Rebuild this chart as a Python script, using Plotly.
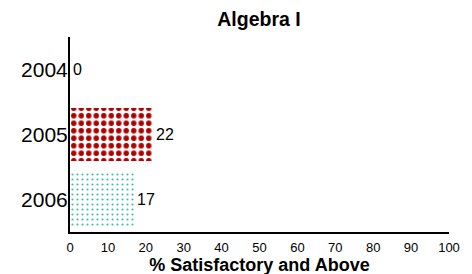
import plotly.graph_objects as go

years = ["2004", "2005", "2006"]
values = [0, 22, 17]
x_ticks = [0, 10, 20, 30, 40, 50, 60, 70, 80, 90, 100]

FONT = "Arial, Liberation Sans, sans-serif"
OFF = 8  # page body margin offset compensation

fig = go.Figure()
fig.add_trace(go.Bar(
    y=[years[0]], x=[values[0]], orientation="h", width=0.82,
    marker=dict(color="white", line=dict(width=0)),
    text=[str(values[0])], textposition="outside", cliponaxis=False,
    textfont=dict(size=16, color="black", family=FONT),
))
fig.add_trace(go.Bar(
    y=[years[1]], x=[values[1]], orientation="h", width=0.82,
    marker=dict(color="white", line=dict(width=0),
                pattern=dict(shape=".", fgcolor="#B00000", bgcolor="white",
                             size=7.5, solidity=0.42, fillmode="replace")),
    text=[str(values[1])], textposition="outside", cliponaxis=False,
    textfont=dict(size=16, color="black", family=FONT),
))
fig.add_trace(go.Bar(
    y=[years[2]], x=[values[2]], orientation="h", width=0.82,
    marker=dict(color="white", line=dict(width=0),
                pattern=dict(shape=".", fgcolor="#3DBE9C", bgcolor="white",
                             size=5, solidity=0.15, fillmode="replace")),
    text=[str(values[2])], textposition="outside", cliponaxis=False,
    textfont=dict(size=16, color="black", family=FONT),
))

fig.update_layout(
    width=472, height=274,
    margin=dict(l=70 - OFF, r=23 + OFF, t=37 - OFF, b=42 + OFF, autoexpand=False),
    paper_bgcolor="white", plot_bgcolor="white",
    showlegend=False,
    title=dict(text="<b>Algebra I</b>", x=(259 - OFF) / 472, xanchor="center",
               y=1 - (19 - OFF) / 274, yanchor="middle", yref="container", xref="container",
               font=dict(size=19.5, family=FONT, color="black")),
    font=dict(family=FONT, color="black"),
    bargap=0,
)
fig.update_xaxes(
    range=[0, 100], tickvals=x_ticks, ticktext=[str(v) for v in x_ticks],
    showgrid=False, zeroline=False, showline=True, linecolor="black", linewidth=2,
    ticks="", ticklen=0, tickfont=dict(size=13, family=FONT), automargin=False, ticklabelstandoff=2,
    title=dict(text="<b>% Satisfactory and Above</b>", font=dict(size=18, family=FONT), standoff=0),
)
fig.update_yaxes(
    type="category", categoryorder="array", categoryarray=years,
    range=[2.5, -0.5], showgrid=False, zeroline=False, automargin=False,
    showline=True, linecolor="black", linewidth=2, ticks="", ticklen=0,
    tickfont=dict(size=21, family=FONT), ticklabelstandoff=-4,
)

fig.write_html("out.html")
